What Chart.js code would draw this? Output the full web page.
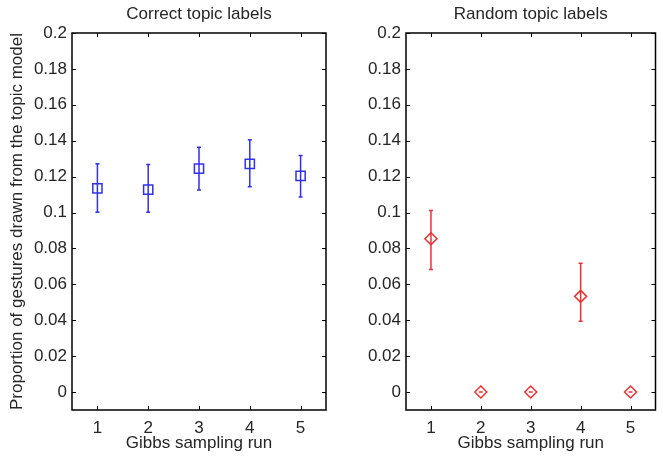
<!DOCTYPE html>
<html>
<head>
<meta charset="utf-8">
<script src="https://cdn.jsdelivr.net/npm/chart.js@4/dist/chart.umd.min.js"></script>
<style>
  html, body { margin: 0; padding: 0; background: #fff; }
  #wrap { position: relative; width: 663px; height: 456px; overflow: hidden; }
  canvas { position: absolute; top: 0; }
</style>
</head>
<body>
<div id="wrap">
  <canvas id="left" width="340" height="456" style="left:0;width:340px;height:456px"></canvas>
  <canvas id="right" width="323" height="456" style="left:340px;width:323px;height:456px"></canvas>
</div>
<script>
const runs = [1, 2, 3, 4, 5];
const xTickValues = [1, 2, 3, 4, 5];
const yTickValues = [0, 0.02, 0.04, 0.06, 0.08, 0.1, 0.12, 0.14, 0.16, 0.18, 0.2];

const correctMean = [0.1135, 0.1128, 0.1244, 0.1271, 0.1204];
const correctLow  = [0.1002, 0.1002, 0.1126, 0.1143, 0.1087];
const correctHigh = [0.1272, 0.1267, 0.1363, 0.1406, 0.1318];

const randomMean = [0.0854, 0, 0, 0.0533, 0];
const randomLow  = [0.0683, 0, 0, 0.0394, 0];
const randomHigh = [0.1011, 0, 0, 0.0718, 0];

const FONT = "'Liberation Sans', Arial, Helvetica, sans-serif";
const TEXT = '#262626';
const FS = 17;

const errorBarPlugin = {
  id: 'errorBars',
  beforeDatasetsDraw(chart) {
    const { ctx } = chart;
    const xs = chart.scales.x, ys = chart.scales.y;
    chart.data.datasets.forEach(ds => {
      ctx.save();
      ctx.strokeStyle = ds.borderColor;
      ctx.lineWidth = 1.5;
      ds.data.forEach((p, i) => {
        const x = xs.getPixelForValue(p.x);
        const y1 = ys.getPixelForValue(ds.errLow[i]);
        const y2 = ys.getPixelForValue(ds.errHigh[i]);
        ctx.beginPath();
        ctx.moveTo(x, y1); ctx.lineTo(x, y2);
        ctx.moveTo(x - 2, y1); ctx.lineTo(x + 2, y1);
        ctx.moveTo(x - 2, y2); ctx.lineTo(x + 2, y2);
        ctx.stroke();
      });
      ctx.restore();
    });
  }
};

const framePlugin = {
  id: 'frame',
  afterDraw(chart, args, opts) {
    const { ctx, chartArea: a } = chart;
    const xs = chart.scales.x, ys = chart.scales.y;
    const tl = 4;
    ctx.save();
    ctx.strokeStyle = '#000';
    ctx.lineWidth = 1;
    ctx.beginPath();
    xTickValues.forEach(v => {
      const x = Math.round(xs.getPixelForValue(v)) + 0.5;
      ctx.moveTo(x, a.bottom); ctx.lineTo(x, a.bottom - tl);
      ctx.moveTo(x, a.top); ctx.lineTo(x, a.top + tl);
    });
    yTickValues.forEach(v => {
      const y = Math.round(ys.getPixelForValue(v)) + 0.5;
      ctx.moveTo(a.left, y); ctx.lineTo(a.left + tl, y);
      ctx.moveTo(a.right, y); ctx.lineTo(a.right - tl, y);
    });
    ctx.stroke();
    ctx.lineWidth = 1.5;
    ctx.strokeRect(a.left, a.top, a.right - a.left, a.bottom - a.top);
    // panel title centred over the plot area
    ctx.fillStyle = TEXT;
    ctx.font = FS + 'px ' + FONT;
    ctx.textAlign = 'center';
    ctx.textBaseline = 'middle';
    ctx.fillText(opts.text, (a.left + a.right) / 2, 14);
    ctx.restore();
  }
};

function makeChart(id, title, mean, low, high, color, pointStyle, radius, yAxisWidth, rightPad, showYTitle) {
  return new Chart(document.getElementById(id), {
    type: 'scatter',
    data: {
      datasets: [{
        data: runs.map((r, i) => ({ x: r, y: mean[i] })),
        errLow: low,
        errHigh: high,
        borderColor: color,
        backgroundColor: 'rgba(0,0,0,0)',
        pointStyle: pointStyle,
        pointRadius: radius,
        pointHoverRadius: radius,
        pointBorderWidth: 1.5,
        showLine: false
      }]
    },
    options: {
      responsive: false,
      animation: false,
      devicePixelRatio: 1,
      layout: { padding: { left: 0, right: rightPad, top: 33, bottom: 0 } },
      plugins: {
        legend: { display: false },
        tooltip: { enabled: false },
        title: { display: false },
        frame: { text: title }
      },
      scales: {
        x: {
          type: 'linear',
          min: 0.5, max: 5.5,
          grid: { display: false, drawTicks: false },
          border: { display: false },
          afterBuildTicks: s => { s.ticks = xTickValues.map(v => ({ value: v })); },
          afterFit: s => { s.height = 46; },
          ticks: {
            color: TEXT,
            padding: 8,
            font: { family: FONT, size: FS },
            callback: v => String(v)
          },
          title: {
            display: true,
            text: 'Gibbs sampling run',
            color: TEXT,
            font: { family: FONT, size: FS },
            padding: { top: 0, bottom: 2 }
          }
        },
        y: {
          type: 'linear',
          min: -0.01, max: 0.2,
          grid: { display: false, drawTicks: false },
          border: { display: false },
          afterBuildTicks: s => { s.ticks = yTickValues.map(v => ({ value: v })); },
          afterFit: s => { s.width = yAxisWidth; },
          ticks: {
            color: TEXT,
            padding: 5,
            font: { family: FONT, size: FS },
            callback: v => String(Math.round(v * 100) / 100)
          },
          title: {
            display: showYTitle,
            text: 'Proportion of gestures drawn from the topic model',
            color: TEXT,
            font: { family: FONT, size: FS },
            padding: { top: 7, bottom: 0 }
          }
        }
      }
    },
    plugins: [errorBarPlugin, framePlugin]
  });
}

makeChart('left', 'Correct topic labels', correctMean, correctLow, correctHigh,
  '#3030f0', 'rect', 6.5, 72, 14, true);
makeChart('right', 'Random topic labels', randomMean, randomLow, randomHigh,
  '#f03030', 'rectRot', 6, 66, 4, false);
</script>
</body>
</html>
